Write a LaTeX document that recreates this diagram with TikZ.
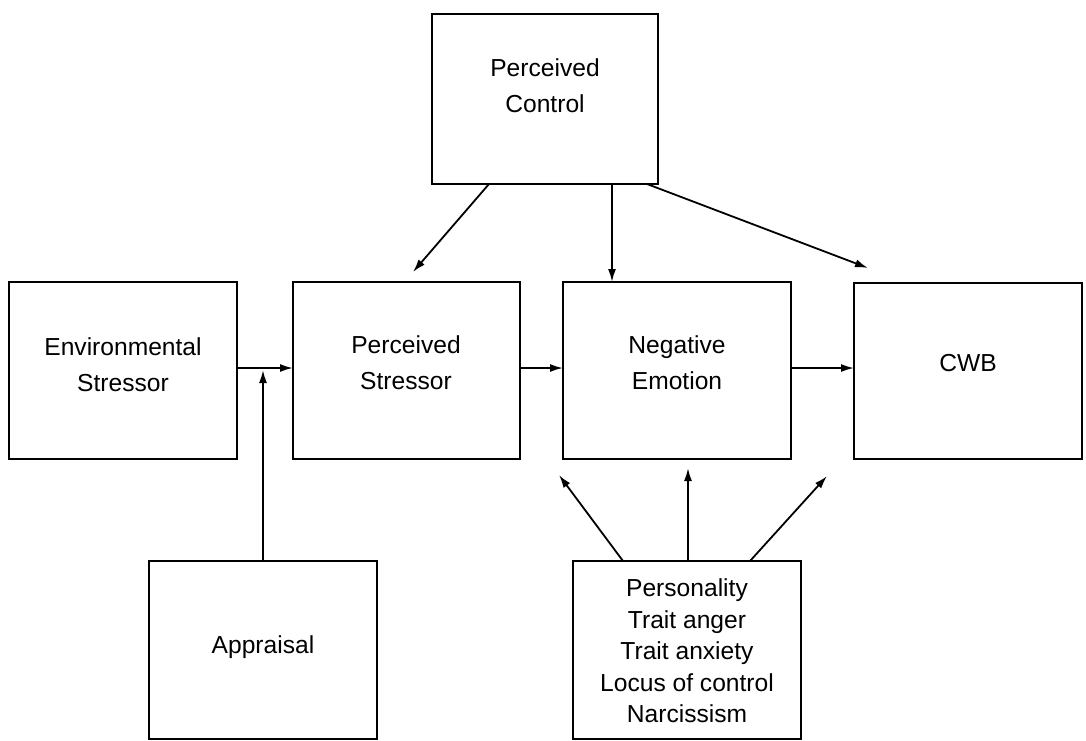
\documentclass[tikz,border=0pt]{standalone}
\usepackage{fontspec}
\setmainfont{Liberation Sans}
\usetikzlibrary{arrows.meta}
\begin{document}
\begin{tikzpicture}[x=1pt,y=-1pt,
  box/.style={draw=black,line width=2.8pt,rectangle,inner sep=0pt,outer sep=0pt},
  txt/.style={align=center,inner sep=0pt,font=\fontsize{24.6pt}{36pt}\selectfont},
  txtlist/.style={align=center,inner sep=0pt,font=\fontsize{24.6pt}{31.5pt}\selectfont},
  arr/.style={line width=1.8pt,-{Latex[length=13pt,width=8pt]}},
  plain/.style={line width=1.8pt}]
\useasboundingbox (0,0) rectangle (1086,740);
% boxes
\node[box,minimum width=226pt,minimum height=170pt] (pc) at (545,99) {};
\node[box,minimum width=228pt,minimum height=177pt] (env) at (123,370.5) {};
\node[box,minimum width=227pt,minimum height=177pt] (ps) at (406.5,370.5) {};
\node[box,minimum width=228pt,minimum height=177pt] (ne) at (677,370.5) {};
\node[box,minimum width=228pt,minimum height=176pt] (cwb) at (968,371) {};
\node[box,minimum width=228pt,minimum height=178pt] (apr) at (263,650) {};
\node[box,minimum width=228pt,minimum height=178pt] (pers) at (687,650) {};
% texts
\node[txt] (pct) at (545,86) {Perceived\\Control};
\node[txt] (envt) at (123,365) {Environmental\\Stressor};
\node[txt] (pst) at (406,362.5) {Perceived\\Stressor};
\node[txt] (net) at (677,362.5) {Negative\\Emotion};
\node[txt] (cwbt) at (968,363) {CWB};
\node[txt] (aprt) at (263,647) {Appraisal};
\node[txtlist] (perst) at (687,651) {Personality\\Trait anger\\Trait anxiety\\Locus of control\\Narcissism};
% horizontal chain
\draw[arr] ([yshift=2.5pt]env.east) -- ([yshift=2.5pt]ps.west);
\draw[arr] ([yshift=2.5pt]ps.east) -- ([yshift=2.5pt]ne.west);
\draw[arr] ([yshift=2.5pt]ne.east) -- ([yshift=3pt]cwb.west);
% appraisal
\coordinate (join) at (263,370);
\draw[arr] (apr.north) -- (join);
% perceived control arrows
\draw[arr] ([xshift=-56pt]pc.south) -- ([xshift=6.5pt,yshift=10pt]ps.north);
\draw[arr] ([xshift=67pt]pc.south) -- ([xshift=-65pt]ne.north);
\draw[arr] ([xshift=-11pt]pc.south east) -- ([xshift=-100pt,yshift=15pt]cwb.north);
% personality arrows
\draw[arr] ([xshift=-64pt]pers.north) -- ([xshift=-118pt,yshift=-16pt]ne.south);
\draw[arr] ([xshift=1pt]pers.north) -- ([xshift=11pt,yshift=-9pt]ne.south);
\draw[arr] ([xshift=63pt]pers.north) -- ([xshift=150pt,yshift=-17pt]ne.south);
\end{tikzpicture}
\end{document}
